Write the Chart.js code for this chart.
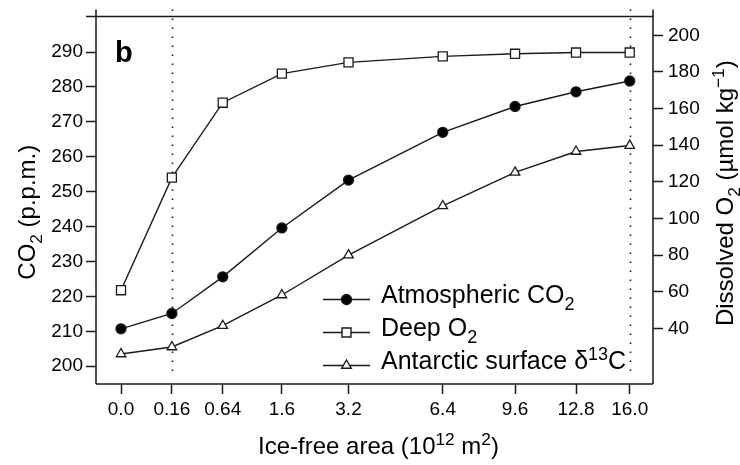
<!DOCTYPE html>
<html><head><meta charset="utf-8">
<script src="https://cdn.jsdelivr.net/npm/chart.js@4.4.0/dist/chart.umd.min.js"></script>
<style>html,body{margin:0;padding:0;background:#fff}canvas{display:block}</style>
</head><body>
<canvas id="c" width="740" height="465"></canvas>
<script>
// ---- data ----
const xLabels = ['0.0', '0.16', '0.64', '1.6', '3.2', '6.4', '9.6', '12.8', '16.0'];
const iceFreeArea = [0, 0.16, 0.64, 1.6, 3.2, 6.4, 9.6, 12.8, 16.0];
const atmosphericCO2 = [210.7, 215.1, 225.6, 239.6, 253.3, 267.0, 274.4, 278.6, 281.7];
const deepO2 = [60.9, 122.3, 163.2, 179.1, 185.2, 188.5, 189.9, 190.6, 190.6];
const antarcticD13C = [203.5, 205.5, 211.6, 220.4, 231.8, 245.9, 255.5, 261.5, 263.2]; // drawn on the CO2 axis scale
const leftTicks = [200, 210, 220, 230, 240, 250, 260, 270, 280, 290];
const rightTicks = [40, 60, 80, 100, 120, 140, 160, 180, 200];
const markedAreas = [0.16, 16.0];

const FONT = "'Liberation Sans', Arial, Helvetica, sans-serif";
const INK = '#1a1a1a';

const pts = arr => arr.map((v, i) => ({ x: Math.sqrt(iceFreeArea[i]), y: v }));

function richWidth(ctx, parts, size) {
  let w = 0;
  for (const p of parts) {
    const s = p.m ? size * 0.72 : size;
    ctx.font = `${s}px ${FONT}`;
    w += ctx.measureText(p.t).width;
  }
  return w;
}
function drawRich(ctx, parts, x, y, size, align) {
  let w = richWidth(ctx, parts, size);
  let cx = align === 'center' ? x - w / 2 : x;
  ctx.textAlign = 'left';
  ctx.textBaseline = 'alphabetic';
  for (const p of parts) {
    const s = p.m ? size * 0.72 : size;
    ctx.font = `${s}px ${FONT}`;
    let dy = 0;
    if (p.m === 'sub') dy = size * 0.28;
    if (p.m === 'sup') dy = -size * 0.38;
    ctx.fillText(p.t, cx, y + dy);
    cx += ctx.measureText(p.t).width;
  }
}

const decorPlugin = {
  id: 'decor',
  beforeDatasetsDraw(chart) {
    const { ctx, chartArea: a, scales } = chart;
    ctx.save();
    ctx.strokeStyle = INK;
    ctx.lineWidth = 1.6;
    ctx.setLineDash([1.6, 7.4]);
    for (const v of markedAreas) {
      const px = Math.round(scales.x.getPixelForValue(Math.sqrt(v))) + 0.5;
      ctx.beginPath();
      ctx.moveTo(px, a.top - 7);
      ctx.lineTo(px, a.bottom - 6);
      ctx.stroke();
    }
    ctx.restore();
  },
  afterDraw(chart) {
    const { ctx, chartArea: a } = chart;
    ctx.save();
    // frame
    ctx.strokeStyle = INK;
    ctx.lineWidth = 1.5;
    ctx.beginPath();
    ctx.moveTo(a.left - 10, a.top); ctx.lineTo(a.right, a.top);
    ctx.moveTo(a.left, a.top - 7); ctx.lineTo(a.left, a.bottom);
    ctx.moveTo(a.right, a.top - 7); ctx.lineTo(a.right, a.bottom);
    ctx.moveTo(a.left, a.bottom); ctx.lineTo(a.right, a.bottom);
    ctx.stroke();

    ctx.fillStyle = '#000';
    // panel letter
    ctx.font = `bold 29px ${FONT}`;
    ctx.textAlign = 'left';
    ctx.textBaseline = 'alphabetic';
    ctx.fillText('b', a.left + 19, a.top + 46);

    // x title
    drawRich(ctx, [{ t: 'Ice-free area (10' }, { t: '12', m: 'sup' }, { t: ' m' }, { t: '2', m: 'sup' }, { t: ')' }],
      (a.left + a.right) / 2 + 4, 454, 24, 'center');

    // left title
    ctx.save();
    ctx.translate(35, (a.top + a.bottom) / 2 + 12);
    ctx.rotate(-Math.PI / 2);
    drawRich(ctx, [{ t: 'CO' }, { t: '2', m: 'sub' }, { t: ' (p.p.m.)' }], 0, 0, 24, 'center');
    ctx.restore();

    // right title
    ctx.save();
    ctx.translate(733, (a.top + a.bottom) / 2 - 7);
    ctx.rotate(-Math.PI / 2);
    drawRich(ctx, [{ t: 'Dissolved O' }, { t: '2', m: 'sub' }, { t: ' (\u00b5mol kg' }, { t: '\u22121', m: 'sup' }, { t: ')' }], 0, 0, 24, 'center');
    ctx.restore();

    // legend
    const rows = [
      { parts: [{ t: 'Atmospheric CO' }, { t: '2', m: 'sub' }], style: 'circle' },
      { parts: [{ t: 'Deep O' }, { t: '2', m: 'sub' }], style: 'rect' },
      { parts: [{ t: 'Antarctic surface \u03b4' }, { t: '13', m: 'sup' }, { t: 'C' }], style: 'triangle' }
    ];
    const lx0 = a.left + 227, lx1 = a.left + 274, mx = a.left + 250.5, tx = a.left + 285;
    rows.forEach((r, i) => {
      const by = 303 + i * 33;
      const my = by - 3.5;
      ctx.strokeStyle = INK;
      ctx.lineWidth = 1.4;
      ctx.setLineDash([]);
      ctx.beginPath(); ctx.moveTo(lx0, my); ctx.lineTo(lx1, my); ctx.stroke();
      ctx.beginPath();
      if (r.style === 'circle') {
        ctx.arc(mx, my, 5, 0, Math.PI * 2);
        ctx.fillStyle = '#000'; ctx.fill(); ctx.stroke();
      } else if (r.style === 'rect') {
        ctx.rect(mx - 4.5, my - 4.5, 9, 9);
        ctx.fillStyle = '#fff'; ctx.fill(); ctx.stroke();
      } else {
        const rr = 5.5;
        ctx.moveTo(mx, my - rr);
        ctx.lineTo(mx + rr * 0.866, my + rr * 0.5);
        ctx.lineTo(mx - rr * 0.866, my + rr * 0.5);
        ctx.closePath();
        ctx.fillStyle = '#fff'; ctx.fill(); ctx.stroke();
      }
      ctx.fillStyle = '#000';
      drawRich(ctx, r.parts, tx, by, 25, 'left');
    });
    ctx.restore();
  }
};

const lineDs = (data, axis, style, fill, radius) => ({
  data: pts(data), yAxisID: axis,
  borderColor: INK, borderWidth: 1.4,
  pointStyle: style, pointRadius: radius, pointHoverRadius: radius,
  pointBackgroundColor: fill, pointBorderColor: INK, pointBorderWidth: 1.3,
  tension: 0
});

const tickGrid = { display: true, drawOnChartArea: false, drawTicks: true, tickLength: 10, tickColor: INK, tickWidth: 1.5 };

new Chart(document.getElementById('c'), {
  type: 'line',
  data: {
    datasets: [
      lineDs(deepO2, 'yR', 'rect', '#fff', 6.4),
      lineDs(antarcticD13C, 'yL', 'triangle', '#fff', 5.5),
      lineDs(atmosphericCO2, 'yL', 'circle', '#000', 5)
    ]
  },
  plugins: [decorPlugin],
  options: {
    responsive: false, devicePixelRatio: 1, animation: false,
    layout: { padding: { top: 13, left: 0, right: 0, bottom: 0 } },
    plugins: { legend: { display: false }, tooltip: { enabled: false } },
    scales: {
      x: {
        type: 'linear', min: -0.1966, max: 4.183,
        border: { display: false }, grid: tickGrid,
        afterBuildTicks: s => { s.ticks = iceFreeArea.map(v => ({ value: Math.sqrt(v) })); },
        afterFit: s => { s.height = 81; },
        ticks: { autoSkip: false, maxRotation: 0, padding: 4, color: '#000',
          font: { family: FONT, size: 19 }, callback: (v, i) => xLabels[i] }
      },
      yL: {
        type: 'linear', position: 'left', min: 194.9, max: 300.2,
        border: { display: false }, grid: tickGrid,
        afterBuildTicks: s => { s.ticks = leftTicks.map(v => ({ value: v })); },
        afterFit: s => { s.width = 96; },
        ticks: { padding: 3, color: '#000', font: { family: FONT, size: 19 } }
      },
      yR: {
        type: 'linear', position: 'right', min: 9.73, max: 210.3,
        border: { display: false }, grid: tickGrid,
        afterBuildTicks: s => { s.ticks = rightTicks.map(v => ({ value: v })); },
        afterFit: s => { s.width = 87; },
        ticks: { padding: 5, color: '#000', font: { family: FONT, size: 19 } }
      }
    }
  }
});
</script>
</body></html>
